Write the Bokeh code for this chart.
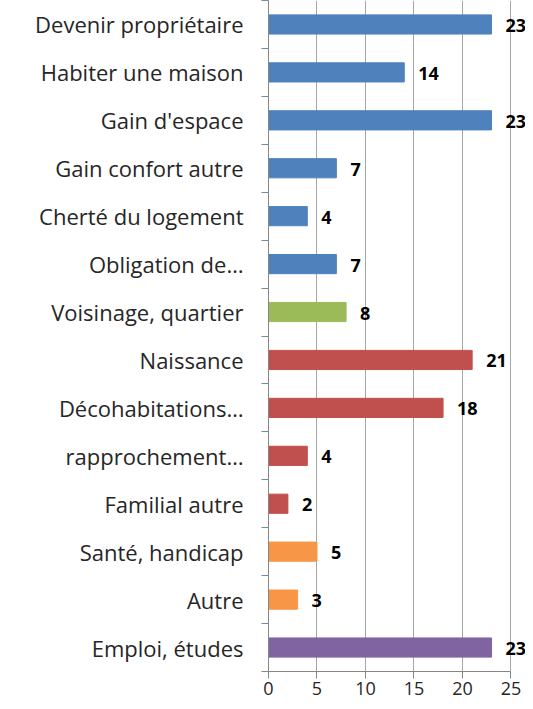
from bokeh.plotting import figure
from bokeh.models import ColumnDataSource, FixedTicker, LabelSet
from bokeh.core.properties import value
from bokeh.embed import file_html
from bokeh.resources import INLINE

categories = ["Devenir propriétaire", "Habiter une maison", "Gain d'espace",
              "Gain confort autre", "Cherté du logement", "Obligation de…",
              "Voisinage, quartier", "Naissance", "Décohabitations…",
              "rapprochement…", "Familial autre", "Santé, handicap", "Autre",
              "Emploi, études"]
values = [23, 14, 23, 7, 4, 7, 8, 21, 18, 4, 2, 5, 3, 23]
colors = ["#4F81BD"] * 6 + ["#9BBB59"] + ["#C0504D"] * 4 + ["#F79646"] * 2 + ["#8064A2"]
x_ticks = [0, 5, 10, 15, 20, 25]

n = len(categories)
ypos = [n - i - 0.5 for i in range(n)]
src = ColumnDataSource(dict(y=ypos, v=values, c=colors, t=[str(v) for v in values]))

p = figure(width=525, height=701, x_range=(0, 26.5), y_range=(0, n),
           output_backend="svg", toolbar_location=None,
           min_border_top=0, min_border_right=0, min_border_bottom=30, min_border_left=268)
p.outline_line_color = None
p.background_fill_color = "white"

p.hbar(y="y", right="v", left=0, height=0.4, color="c", line_color="c", source=src)

labels = LabelSet(x="v", y="y", text="t", source=src, x_offset=14, y_offset=-1,
                  text_align="left", text_baseline="middle",
                  text_font=value("Open Sans"), text_font_style="bold",
                  text_font_size="18px", text_color="black")
p.add_layout(labels)

# x axis
p.xaxis.ticker = FixedTicker(ticks=x_ticks)
p.xaxis.bounds = (0, 25)
p.xaxis.axis_line_color = "#868686"
p.xaxis.major_tick_line_color = "#868686"
p.xaxis.major_tick_out = 7
p.xaxis.major_tick_in = 0
p.xaxis.minor_tick_line_color = None
p.xaxis.major_label_text_font = "Open Sans"
p.xaxis.major_label_text_font_size = "18px"
p.xaxis.major_label_text_color = "#262626"
p.xaxis.major_label_standoff = 3
p.xaxis.axis_label_standoff = 0

# y axis: labels at centers, tick marks at boundaries
p.yaxis.ticker = FixedTicker(ticks=ypos, minor_ticks=list(range(n + 1)))
p.yaxis.major_label_overrides = {y: c for y, c in zip(ypos, categories)}
p.yaxis.major_tick_line_color = None
p.yaxis.major_tick_out = 0
p.yaxis.minor_tick_line_color = "#868686"
p.yaxis.minor_tick_out = 7
p.yaxis.minor_tick_in = 0
p.yaxis.axis_line_color = "#868686"
p.yaxis.major_label_text_font = "Open Sans"
p.yaxis.major_label_text_font_size = "22px"
p.yaxis.major_label_text_color = "#262626"
p.yaxis.major_label_standoff = 18

p.xgrid.ticker = FixedTicker(ticks=x_ticks)
p.xgrid.grid_line_color = "#A6A6A6"
p.ygrid.grid_line_color = None

open("out.html", "w").write(file_html(p, INLINE))
